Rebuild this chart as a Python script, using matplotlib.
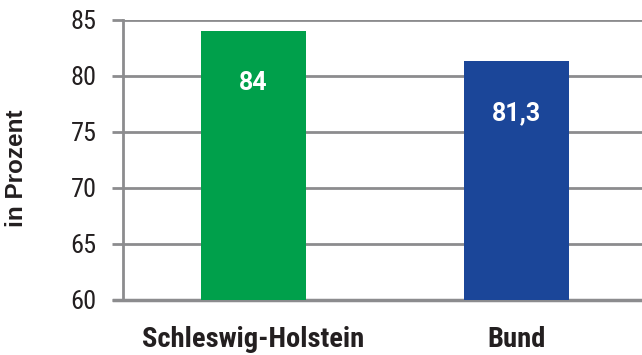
import matplotlib.pyplot as plt

regions = ["Schleswig-Holstein", "Bund"]
values = [84, 81.3]
labels = ["84", "81,3"]
colors = ["#00a04b", "#1b4699"]
yticks = [60, 65, 70, 75, 80, 85]

plt.rcParams['font.family'] = ['Roboto Condensed', 'DejaVu Sans']

fig = plt.figure(figsize=(6.42, 3.55), dpi=100)
ax = fig.add_axes([123/642, 55/355, 1 - 123/642, 280/355])

x = range(len(regions))
ax.bar(x, values, width=0.4, color=colors, zorder=3)
for i, v in enumerate(values):
    ax.annotate(labels[i], (i, v), xytext=(0, -37), textcoords='offset points',
                ha='center', va='center', color='white', fontsize=18, fontweight='bold',
                family=['Roboto', 'DejaVu Sans'], zorder=4)

ax.set_ylim(60, 85)
ax.set_xlim(-0.496, 1.477)
ax.set_yticks(yticks)
ax.set_yticklabels([str(t) for t in yticks], fontsize=19, color='#231f20')
ax.yaxis.grid(True, color='#8c8c8e', linewidth=2, zorder=1)
ax.tick_params(axis='y', length=8, width=2, color='#8c8c8e', pad=11)
ax.set_xticks(list(x))
ax.set_xticklabels(regions, fontsize=20.5, fontweight='bold', color='#231f20')
ax.tick_params(axis='x', length=0, pad=19)
for s in ['top', 'right']:
    ax.spines[s].set_visible(False)
ax.spines['left'].set_color('#8c8c8e')
ax.spines['left'].set_linewidth(2)
ax.spines['bottom'].set_color('#8c8c8e')
ax.spines['bottom'].set_linewidth(2.5)
ax.spines['bottom'].set_bounds(-0.53, 1.477)
ax.set_ylabel('in Prozent', fontsize=17.5, fontweight='bold', color='#231f20',
              family=['Liberation Sans', 'DejaVu Sans'])
ax.yaxis.set_label_coords(-95/519, 0.47)

fig.savefig('out.png', dpi=100)
